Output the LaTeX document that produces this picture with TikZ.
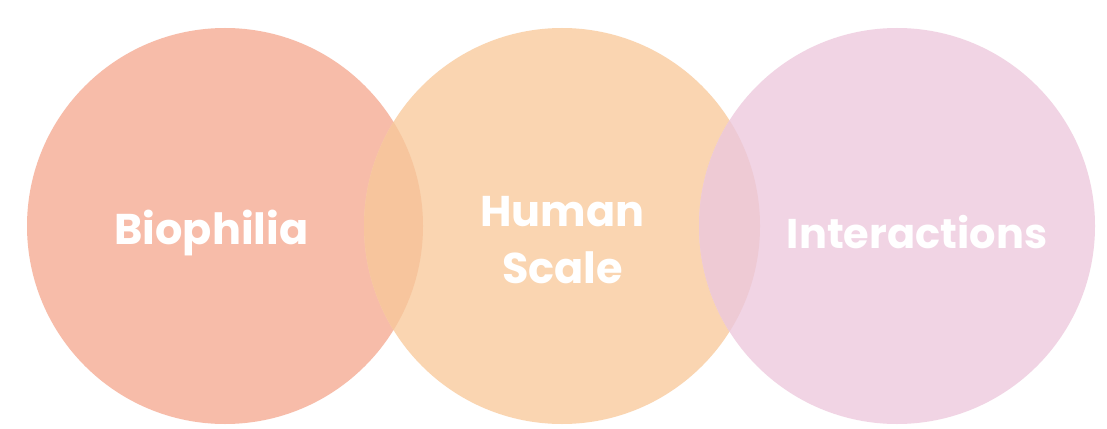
\documentclass[tikz,border=0pt]{standalone}
\usepackage{fontspec}
\setmainfont{Poppins}
\definecolor{cL}{HTML}{F7BCA9}
\definecolor{cM}{HTML}{FAD5B1}
\definecolor{cR}{HTML}{F1D4E4}
\definecolor{cLM}{HTML}{F7C59D}
\definecolor{cMR}{HTML}{EECAD4}
\begin{document}
\begin{tikzpicture}[x=1pt,y=-1pt,
  lbl/.style={text=white,font=\bfseries\fontsize{43}{57}\selectfont,align=center,inner sep=0pt,anchor=base}]
\useasboundingbox (0,0) rectangle (1107,428);
\fill[white] (0,0) rectangle (1107,428);
\fill[cL] (225,226) circle[radius=198];
\fill[cM] (562,226) circle[radius=198];
\fill[cR] (897,226) circle[radius=198];
\begin{scope}
  \clip (225,226) circle[radius=198];
  \fill[cLM] (562,226) circle[radius=198];
\end{scope}
\begin{scope}
  \clip (562,226) circle[radius=198];
  \fill[cMR] (897,226) circle[radius=198];
\end{scope}
\node[lbl] (bio) at (211.5,244) {Biophilia};
\node[lbl] (hum) at (562.5,226) {Human};
\node[lbl] (sca) at (562.5,283) {Scale};
\node[lbl,font=\bfseries\fontsize{41.5}{57}\selectfont] (int) at (917,248) {Interactions};
\end{tikzpicture}
\end{document}
